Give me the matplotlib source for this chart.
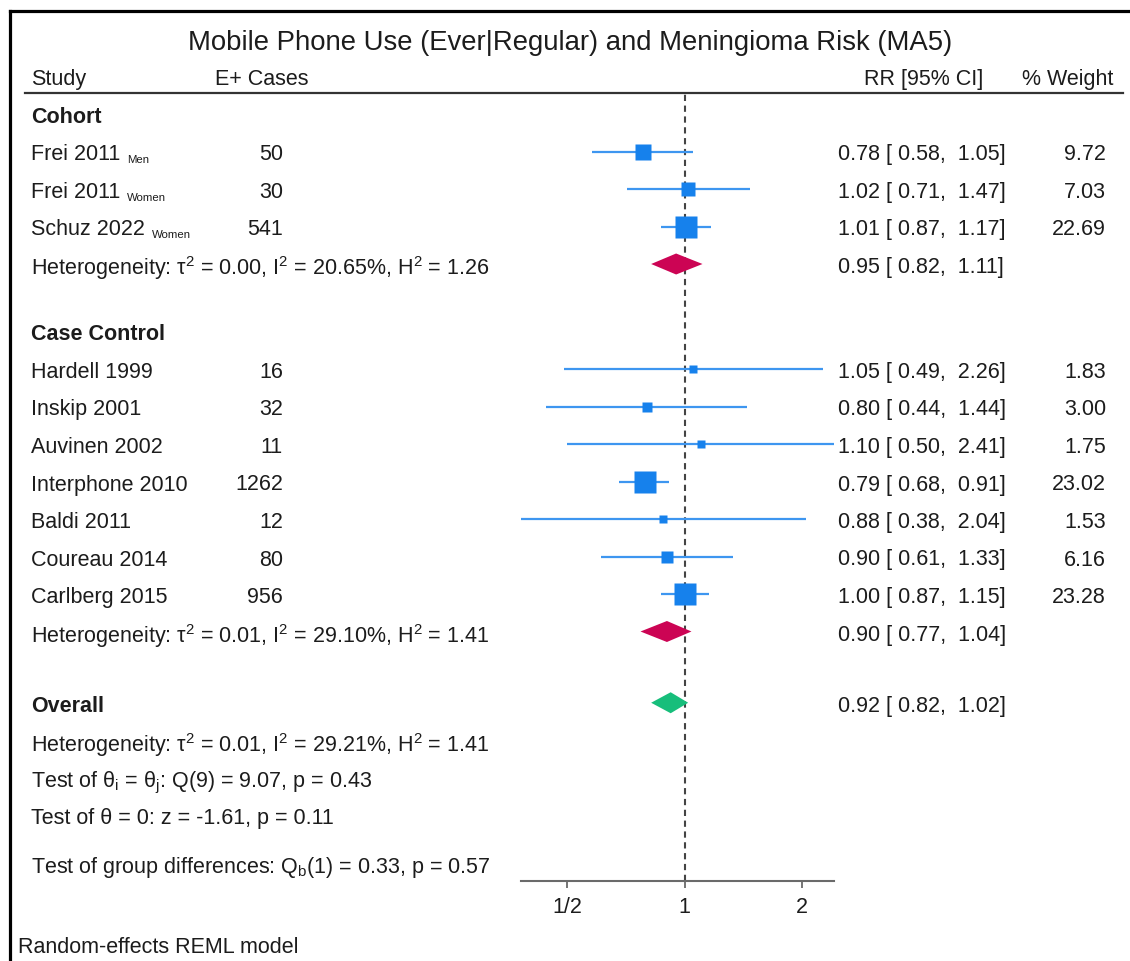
import numpy as np
import matplotlib
matplotlib.use("Agg")
import matplotlib.pyplot as plt
import matplotlib.transforms as mtransforms
from matplotlib.lines import Line2D
from matplotlib.patches import Polygon
from matplotlib.ticker import NullLocator

plt.rcParams["font.family"] = ["Liberation Sans", "DejaVu Sans"]
plt.rcParams["mathtext.fontset"] = "custom"
plt.rcParams["mathtext.rm"] = "Liberation Sans"
plt.rcParams["mathtext.it"] = "Liberation Sans:italic"
plt.rcParams["mathtext.bf"] = "Liberation Sans:bold"

TITLE = "Mobile Phone Use (Ever|Regular) and Meningioma Risk (MA5)"
FOOTER = "Random-effects REML model"

# --- study level data ---
groups = ["Cohort", "Case Control"]
study_group = [0, 0, 0, 1, 1, 1, 1, 1, 1, 1]
study_names = ["Frei 2011", "Frei 2011", "Schuz 2022", "Hardell 1999",
               "Inskip 2001", "Auvinen 2002", "Interphone 2010",
               "Baldi 2011", "Coureau 2014", "Carlberg 2015"]
study_subs = ["Men", "Women", "Women", "", "", "", "", "", "", ""]
cases = [50, 30, 541, 16, 32, 11, 1262, 12, 80, 956]
rr = [0.78, 1.02, 1.01, 1.05, 0.80, 1.10, 0.79, 0.88, 0.90, 1.00]
rr_lo = [0.58, 0.71, 0.87, 0.49, 0.44, 0.50, 0.68, 0.38, 0.61, 0.87]
rr_hi = [1.05, 1.47, 1.17, 2.26, 1.44, 2.41, 0.91, 2.04, 1.33, 1.15]
weights = [9.72, 7.03, 22.69, 1.83, 3.00, 1.75, 23.02, 1.53, 6.16, 23.28]

# --- subgroup pooled results ---
group_rr = [0.95, 0.90]
group_lo = [0.82, 0.77]
group_hi = [1.11, 1.04]
group_tau2 = [0.00, 0.01]
group_i2 = [20.65, 29.10]
group_h2 = [1.26, 1.41]

# --- overall ---
overall_rr, overall_lo, overall_hi = 0.92, 0.82, 1.02
overall_tau2, overall_i2, overall_h2 = 0.01, 29.21, 1.41
q_df, q_stat, q_p = 9, 9.07, 0.43
z_stat, z_p = -1.61, 0.11
qb_df, qb_stat, qb_p = 1, 0.33, 0.57

xticks = [0.5, 1, 2]
xticklabels = ["1/2", "1", "2"]

# colours
SQ_COL = "#1681EC"
CI_COL = "#3E96F0"
SUB_COL = "#CC0454"
ALL_COL = "#17BE7B"
TXT = "#1c1c1c"

W, H = 1130, 962
ROW = 37.5   # px per row
FS = 15.5


def fx(px):
    return px / W


def fy(py):
    return 1 - py / H


def rr_text(r, lo, hi):
    return f"{r:.2f} [{lo:5.2f}, {hi:5.2f}]"


def het_text(t2, i2, h2):
    return (f"Heterogeneity: τ$^{{2}}$ = {t2:.2f}, I$^{{2}}$ = {i2:.2f}%, "
            f"H$^{{2}}$ = {h2:.2f}")


fig = plt.figure(figsize=(W / 100, H / 100), dpi=100)
fig.patch.set_facecolor("white")

ax_top, ax_bot = 94, 881.7
ax_left, ax_right = 520.7, 834
ax = fig.add_axes([fx(ax_left), fy(ax_bot), (ax_right - ax_left) / W,
                   (ax_bot - ax_top) / H])
ax.patch.set_alpha(0)
ax.set_xscale("log")
ax.set_xlim(min(rr_lo), max(rr_hi))
ax.set_ylim((ax_bot - 115) / ROW, (ax_top - 115) / ROW)
for s in ["top", "left", "right"]:
    ax.spines[s].set_visible(False)
ax.spines["bottom"].set_color("#6a6a6a")
ax.spines["bottom"].set_linewidth(1.5)
ax.set_yticks([])
ax.set_xticks(xticks)
ax.set_xticklabels(xticklabels)
ax.xaxis.set_minor_locator(NullLocator())
ax.tick_params(axis="x", length=5, width=1.3, color="#6a6a6a",
               labelsize=FS, labelcolor=TXT, pad=6)
ax.axvline(1, color="#444444", lw=1.5, ls=(0, (3, 2.2)), zorder=1)

tr = mtransforms.blended_transform_factory(fig.transFigure, ax.transData)
kw = dict(transform=tr, va="center_baseline", fontsize=FS, color=TXT)


def diamond(r, lo, hi, y, col):
    h = 0.28
    ax.add_patch(Polygon([(lo, y), (r, y - h), (hi, y), (r, y + h)],
                         closed=True, facecolor=col, edgecolor="none",
                         zorder=3))


y = 0.0
for g, gname in enumerate(groups):
    ax.text(fx(31), y, gname, fontweight="bold", **kw)
    for i in range(len(study_names)):
        if study_group[i] != g:
            continue
        y += 1
        t = ax.text(fx(31), y, study_names[i], **kw)
        if study_subs[i]:
            ax.annotate(study_subs[i], xy=(1, 0), xycoords=t,
                        xytext=(5, 0), textcoords="offset points",
                        fontsize=8.2, color=TXT, va="bottom")
        ax.text(fx(283), y, str(cases[i]), ha="right", **kw)
        ax.plot([rr_lo[i], rr_hi[i]], [y, y], color=CI_COL, lw=1.6,
                solid_capstyle="butt", zorder=2)
        side = 3 + 3.9 * np.sqrt(weights[i])
        ax.plot(rr[i], y, marker="s", ms=side * 0.72, color=SQ_COL,
                mec="none", zorder=3)
        ax.text(fx(838), y, rr_text(rr[i], rr_lo[i], rr_hi[i]), **kw)
        ax.text(fx(1106), y, f"{weights[i]:.2f}", ha="right", **kw)
    y += 1
    ax.text(fx(31), y, het_text(group_tau2[g], group_i2[g], group_h2[g]), **kw)
    diamond(group_rr[g], group_lo[g], group_hi[g], y, SUB_COL)
    ax.text(fx(838), y, rr_text(group_rr[g], group_lo[g], group_hi[g]), **kw)
    if g < len(groups) - 1:
        y += 1.8

# overall block
y += 1.9
ax.text(fx(31), y, "Overall", fontweight="bold", **kw)
diamond(overall_rr, overall_lo, overall_hi, y, ALL_COL)
ax.text(fx(838), y, rr_text(overall_rr, overall_lo, overall_hi), **kw)
y += 1
ax.text(fx(31), y, het_text(overall_tau2, overall_i2, overall_h2), **kw)
y += 1
ax.text(fx(31), y, f"Test of θ$_{{\\mathrm{{i}}}}$ = θ$_{{\\mathrm{{j}}}}$: "
        f"Q({q_df}) = {q_stat:.2f}, p = {q_p:.2f}", **kw)
y += 1
ax.text(fx(31), y, f"Test of θ = 0: z = {z_stat:.2f}, p = {z_p:.2f}", **kw)
y += 1.27
ax.text(fx(31), y, f"Test of group differences: Q$_{{\\mathrm{{b}}}}$({qb_df}) = "
        f"{qb_stat:.2f}, p = {qb_p:.2f}", **kw)

# headers, title, footer
fig.text(fx(570), fy(40), TITLE, ha="center", va="center_baseline",
         fontsize=19.8, color=TXT)
fig.text(fx(31), fy(77), "Study", va="center_baseline", fontsize=FS, color=TXT)
fig.text(fx(215), fy(77), "E+ Cases", va="center_baseline", fontsize=FS,
         color=TXT)
fig.text(fx(983), fy(77), "RR [95% CI]", ha="right", va="center_baseline",
         fontsize=FS, color=TXT)
fig.text(fx(1113), fy(77), "% Weight", ha="right", va="center_baseline",
         fontsize=FS, color=TXT)
fig.text(fx(18), fy(945), FOOTER, va="center_baseline", fontsize=FS, color=TXT)

# header rule and outer frame
fig.add_artist(Line2D([fx(25), fx(1123)], [fy(94), fy(94)], color="#333333",
                      lw=1.6, transform=fig.transFigure))
fig.add_artist(Line2D([fx(9.5), fx(9.5)], [0, fy(12)], color="black", lw=2.3,
                      transform=fig.transFigure))
fig.add_artist(Line2D([fx(9.5), 1], [fy(12), fy(12)], color="black", lw=2.3,
                      transform=fig.transFigure))

fig.savefig("out.png", dpi=100)
